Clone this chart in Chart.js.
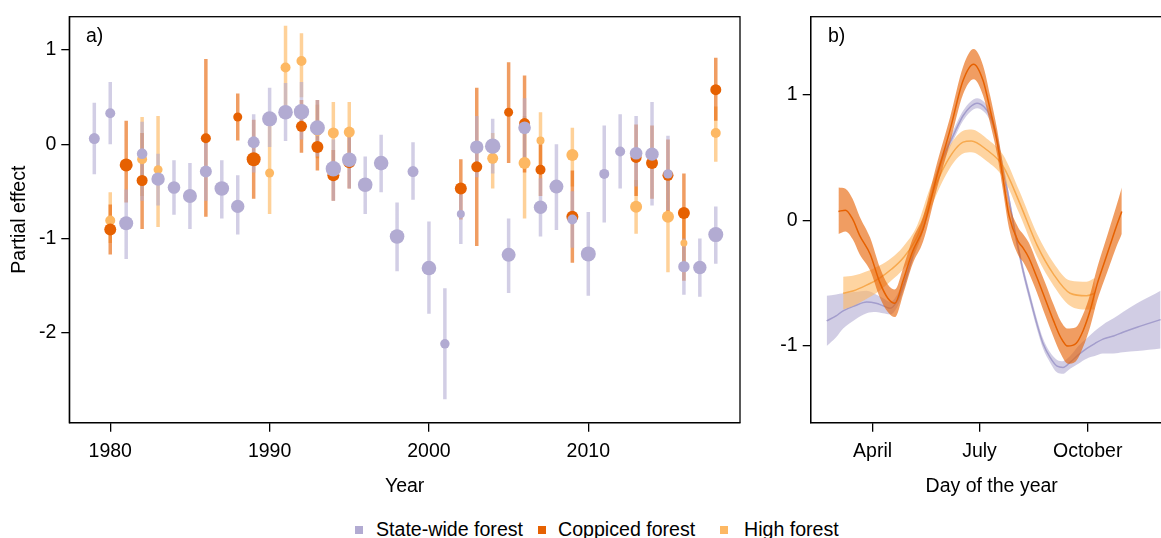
<!DOCTYPE html>
<html>
<head>
<meta charset="utf-8">
<script src="https://cdn.jsdelivr.net/npm/chart.js@4.4.1/dist/chart.umd.min.js"></script>
<style>
  html, body { margin: 0; padding: 0; background: #fff; overflow: hidden; width: 1161px; height: 538px; }
  body { position: relative; font-family: 'Liberation Sans', Arial, sans-serif; color: #000; }
  #wrapA { position: absolute; left: 0; top: 0; width: 770px; height: 505px; }
  #wrapB { position: absolute; left: 770px; top: 0; width: 430px; height: 505px; }
  .tag { position: absolute; font-size: 19.5px; line-height: 19.5px; white-space: nowrap; }
  .key { position: absolute; width: 8px; height: 8px; top: 526px; }
</style>
</head>
<body>
<div id="wrapA"><canvas id="chartA" width="770" height="505"></canvas></div>
<div id="wrapB"><canvas id="chartB" width="430" height="505"></canvas></div>
<div class="tag" style="left:86px; top:26px;">a)</div>
<div class="tag" style="left:828px; top:26px;">b)</div>
<div class="key" style="left:355px; background:#b2abd2;"></div>
<div class="tag" style="left:376px; top:519.5px; font-size:19.6px;">State-wide forest</div>
<div class="key" style="left:538px; background:#e66101;"></div>
<div class="tag" style="left:558px; top:519.5px; font-size:19.6px;">Coppiced forest</div>
<div class="key" style="left:720px; background:#fdb863;"></div>
<div class="tag" style="left:744px; top:519.5px; font-size:19.6px;">High forest</div>
<script>
// panel a: yearly partial effects with intervals
var stateYears = [1979, 1980, 1981, 1982, 1983, 1984, 1985, 1986, 1987, 1988, 1989, 1990, 1991, 1992, 1993, 1994, 1995, 1996, 1997, 1998,
  1999, 2000, 2001, 2002, 2003, 2004, 2005, 2006, 2007, 2008, 2009, 2010, 2011, 2012, 2013, 2014, 2015, 2016, 2017, 2018];
var stateVal = [0.06, 0.33, -0.84, -0.10, -0.37, -0.46, -0.55, -0.29, -0.47, -0.66, 0.02, 0.27, 0.34, 0.345, 0.175, -0.26, -0.165, -0.43, -0.20, -0.98,
  -0.29, -1.315, -2.12, -0.74, -0.03, -0.02, -1.175, 0.175, -0.67, -0.45, -0.80, -1.165, -0.315, -0.077, -0.095, -0.105, -0.315, -1.30, -1.31, -0.96];
var stateLow = [-0.32, 0.00, -1.22, -0.60, -0.65, -0.75, -0.90, -0.60, -0.79, -0.96, -0.30, -0.03, 0.035, 0.05, -0.13, -0.60, -0.47, -0.74, -0.51, -1.35,
  -0.59, -1.80, -2.71, -1.06, -0.35, -0.31, -1.58, -0.15, -0.98, -0.91, -1.10, -1.61, -0.83, -0.47, -0.45, -0.65, -0.70, -1.60, -1.62, -1.27];
var stateHigh = [0.44, 0.66, -0.48, 0.24, -0.10, -0.17, -0.20, 0.03, -0.17, -0.33, 0.32, 0.60, 0.65, 0.66, 0.47, 0.05, 0.13, -0.13, 0.10, -0.62,
  0.02, -0.82, -1.53, -0.42, 0.30, 0.27, -0.79, 0.49, -0.36, 0.00, -0.50, -0.72, 0.20, 0.32, 0.30, 0.45, 0.09, -1.00, -1.00, -0.66];
var stateSize = [5.5, 5, 7, 5.3, 6.7, 6.3, 7, 6, 7.3, 6.7, 6, 7.5, 7.3, 7.7, 7.5, 7.7, 7.3, 7.3, 7.3, 7.3,
  5.5, 7.3, 4.7, 4, 6.7, 7.7, 7, 6.3, 6.7, 7, 5, 7.5, 5, 5, 6.3, 6.7, 4.7, 5.7, 6.7, 7.5];

var coppYears = [1980, 1981, 1982, 1986, 1988, 1989, 1992, 1993, 1994, 1995, 2002, 2003, 2005, 2006, 2007, 2009, 2013, 2014, 2015, 2016, 2018];
var coppVal = [-0.905, -0.22, -0.385, 0.063, 0.29, -0.16, 0.19, -0.03, -0.33, -0.19, -0.47, -0.24, 0.34, 0.22, -0.27, -0.77, -0.14, -0.20, -0.33, -0.73, 0.58];
var coppLow = [-1.17, -0.62, -0.90, -0.77, 0.04, -0.58, -0.09, -0.28, -0.60, -0.47, -0.80, -1.08, -0.20, -0.30, -0.55, -1.26, -0.55, -0.58, -0.75, -1.45, 0.25];
var coppHigh = [-0.64, 0.25, 0.12, 0.905, 0.54, 0.26, 0.47, 0.47, -0.06, 0.09, -0.16, 0.60, 0.87, 0.73, 0.00, -0.28, 0.21, 0.20, 0.05, -0.31, 0.92];
var coppSize = [6, 6.5, 5.5, 5, 4.5, 7, 5.5, 6, 6, 6, 6, 5.5, 4.5, 5.5, 5, 6, 5.5, 6, 5.5, 6, 5.5];

var highYears = [1980, 1982, 1983, 1990, 1991, 1992, 1993, 1994, 1995, 2004, 2006, 2007, 2009, 2013, 2015, 2016, 2018];
var highVal = [-0.81, -0.16, -0.27, -0.305, 0.815, 0.885, 0.14, 0.12, 0.13, -0.15, -0.20, 0.04, -0.115, -0.665, -0.77, -1.05, 0.12];
var highLow = [-1.05, -0.55, -0.88, -0.74, 0.38, 0.50, -0.15, -0.25, -0.20, -0.47, -0.79, -0.30, -0.45, -0.95, -1.36, -1.35, -0.185];
var highHigh = [-0.51, 0.29, 0.30, 0.23, 1.26, 1.18, 0.42, 0.45, 0.45, 0.12, 0.30, 0.34, 0.175, -0.38, -0.30, -0.75, 0.40];
var highSize = [5, 5, 4.5, 4.5, 5, 5, 5, 5.5, 5.5, 5.5, 6, 4, 6, 6, 6, 3.5, 5];

var yearTicks = [1980, 1990, 2000, 2010];
var effectTicksA = [-2, -1, 0, 1];

// panel b: seasonal smooths with confidence bands
var stateDays = [52, 60, 66, 76, 86, 94, 100, 106, 112, 118, 123, 128, 134, 140, 146, 151, 157, 163, 168, 174, 180, 186, 191, 195, 199, 204, 208, 212,
  216, 219, 225, 231, 236, 242, 248, 253, 259, 266, 273, 280, 287, 296, 304, 316, 326, 336];
var stateMid = [-0.80, -0.76, -0.72, -0.68, -0.65, -0.66, -0.68, -0.70, -0.64, -0.50, -0.35, -0.20, -0.05, 0.16, 0.37, 0.50, 0.62, 0.74, 0.83, 0.90, 0.93, 0.90, 0.83, 0.72, 0.55, 0.32, 0.12, -0.09,
  -0.27, -0.40, -0.62, -0.83, -0.98, -1.09, -1.16, -1.17, -1.13, -1.07, -1.02, -0.98, -0.945, -0.92, -0.89, -0.85, -0.82, -0.79];
var stateHi = [-0.60, -0.59, -0.58, -0.57, -0.56, -0.59, -0.62, -0.65, -0.59, -0.46, -0.31, -0.16, -0.01, 0.20, 0.41, 0.54, 0.66, 0.78, 0.87, 0.94, 0.97, 0.94, 0.87, 0.76, 0.59, 0.36, 0.16, -0.05,
  -0.23, -0.36, -0.58, -0.79, -0.94, -1.05, -1.11, -1.12, -1.08, -1.00, -0.94, -0.88, -0.83, -0.78, -0.73, -0.66, -0.61, -0.56];
var stateLo = [-1.00, -0.93, -0.86, -0.79, -0.74, -0.73, -0.74, -0.75, -0.69, -0.54, -0.39, -0.24, -0.09, 0.12, 0.33, 0.46, 0.58, 0.70, 0.79, 0.86, 0.89, 0.86, 0.79, 0.68, 0.51, 0.28, 0.08, -0.13,
  -0.31, -0.44, -0.66, -0.87, -1.02, -1.13, -1.21, -1.22, -1.18, -1.14, -1.10, -1.08, -1.06, -1.06, -1.05, -1.04, -1.03, -1.02];

var coppDays = [62, 68, 74, 80, 89, 97, 104, 110, 117, 125, 134, 146, 157, 168, 177, 185, 191, 197, 202, 207, 215, 219, 224, 231, 238, 245, 251, 257, 264, 270, 276, 282, 288, 293, 298, 303];
var coppMid = [0.07, 0.08, 0.01, -0.12, -0.27, -0.49, -0.62, -0.66, -0.48, -0.25, -0.07, 0.36, 0.72, 1.11, 1.24, 1.11, 0.88, 0.62, 0.33, 0.04, -0.17, -0.22,
  -0.30, -0.46, -0.63, -0.80, -0.93, -1.00, -0.98, -0.88, -0.72, -0.51, -0.34, -0.20, -0.06, 0.07];
var coppHi = [0.26, 0.25, 0.17, 0.03, -0.14, -0.37, -0.51, -0.55, -0.38, -0.15, 0.03, 0.46, 0.82, 1.22, 1.36, 1.23, 0.99, 0.72, 0.43, 0.14, -0.06, -0.11,
  -0.18, -0.34, -0.50, -0.67, -0.80, -0.86, -0.85, -0.75, -0.59, -0.38, -0.20, -0.05, 0.10, 0.26];
var coppLo = [-0.11, -0.09, -0.15, -0.27, -0.40, -0.61, -0.73, -0.77, -0.59, -0.35, -0.17, 0.26, 0.62, 1.00, 1.12, 0.99, 0.77, 0.52, 0.23, -0.06, -0.28, -0.33,
  -0.42, -0.58, -0.76, -0.93, -1.06, -1.14, -1.12, -1.01, -0.85, -0.64, -0.48, -0.35, -0.22, -0.11];

var highDays = [66, 75, 85, 97, 107, 117, 129, 140, 154, 168, 175, 188, 202, 216, 231, 245, 259, 273, 280];
var highMid = [-0.58, -0.56, -0.52, -0.46, -0.39, -0.30, -0.13, 0.17, 0.46, 0.62, 0.63, 0.56, 0.43, 0.14, -0.20, -0.43, -0.58, -0.60, -0.58];
var highHi = [-0.45, -0.44, -0.41, -0.36, -0.30, -0.21, -0.04, 0.26, 0.55, 0.71, 0.72, 0.65, 0.52, 0.23, -0.11, -0.34, -0.48, -0.49, -0.46];
var highLo = [-0.71, -0.68, -0.63, -0.56, -0.48, -0.39, -0.22, 0.08, 0.37, 0.53, 0.54, 0.47, 0.34, 0.05, -0.29, -0.52, -0.68, -0.71, -0.71];

var monthDays = [91, 182, 274];
var monthNames = ['April', 'July', 'October'];
var effectTicksB = [-1, 0, 1];

Chart.defaults.font.family = "'Liberation Sans', Arial, sans-serif";
Chart.defaults.font.size = 19.5;
Chart.defaults.color = '#000';

function pairs (xs, ys) {
  return xs.map(function (x, i) { return { x: x, y: ys[i] }; });
}

function whiskers (xs, lo, hi) {
  var out = [];
  xs.forEach(function (x, i) {
    out.push({ x: x, y: lo[i] }, { x: x, y: hi[i] }, { x: x, y: null });
  });
  return out;
}

function fixedTicks (values) {
  return function (scale) {
    scale.ticks = values.map(function (v) { return { value: v }; });
  };
}

var frame = {
  id: 'frame',
  afterDraw: function (chart) {
    var a = chart.chartArea, c = chart.ctx;
    c.save();
    c.strokeStyle = '#000';
    c.lineWidth = 1.3;
    c.strokeRect(a.left, a.top, a.right - a.left, a.bottom - a.top);
    c.restore();
  }
};

function pointSet (xs, ys, sizes, color) {
  return { data: pairs(xs, ys), showLine: false, pointRadius: sizes, pointBackgroundColor: color,
    pointBorderWidth: 0, pointHoverRadius: sizes };
}

function barSet (xs, lo, hi, color) {
  return { data: whiskers(xs, lo, hi), borderColor: color, borderWidth: 3.5, pointRadius: 0,
    spanGaps: false, borderCapStyle: 'butt', fill: false };
}

function axisStyle () {
  return {
    grid: { drawOnChartArea: false, drawTicks: true, tickLength: 9, color: '#000', tickColor: '#000', lineWidth: 1.3, tickWidth: 1.3 },
    border: { display: true, color: '#000', width: 1.3 }
  };
}

function draw () {
  var xa = axisStyle(), ya = axisStyle();
  new Chart(document.getElementById('chartA'), {
    type: 'line',
    data: {
      datasets: [
        pointSet(stateYears, stateVal, stateSize, '#b2abd2'),
        pointSet(coppYears, coppVal, coppSize, '#e66101'),
        pointSet(highYears, highVal, highSize, '#fdb863'),
        barSet(stateYears, stateLow, stateHigh, 'rgba(178,171,210,0.58)'),
        barSet(coppYears, coppLow, coppHigh, 'rgba(230,97,1,0.62)'),
        barSet(highYears, highLow, highHigh, 'rgba(253,184,99,0.65)')
      ]
    },
    options: {
      responsive: false,
      animation: false,
      layout: { padding: { left: 0, top: 13.3, right: 30, bottom: 0 } },
      plugins: { legend: { display: false }, tooltip: { enabled: false } },
      scales: {
        x: {
          type: 'linear', min: 1977.43, max: 2019.52,
          afterBuildTicks: fixedTicks(yearTicks),
          afterFit: function (s) { s.height = 82.3; },
          grid: xa.grid, border: xa.border,
          ticks: { padding: 7.8, maxRotation: 0, callback: function (v) { return String(v); } },
          title: { display: true, text: 'Year', padding: { top: 0, bottom: 6.9 } }
        },
        y: {
          min: -2.958, max: 1.355,
          afterBuildTicks: fixedTicks(effectTicksA),
          afterFit: function (s) { s.width = 69.3; },
          grid: Object.assign({}, ya.grid, { tickLength: 8 }), border: ya.border,
          ticks: { padding: 5, callback: function (v) { return String(v); } },
          title: { display: true, text: 'Partial effect', padding: { top: 8.3, bottom: 0 } }
        }
      }
    },
    plugins: [frame]
  });

  var xb = axisStyle(), yb = axisStyle();
  var band = function (xs, ys, color, fill) {
    return { data: pairs(xs, ys), borderWidth: 0, pointRadius: 0, backgroundColor: color,
      fill: fill, cubicInterpolationMode: 'monotone' };
  };
  var mid = function (xs, ys, color) {
    return { data: pairs(xs, ys), borderColor: color, borderWidth: 1.5, pointRadius: 0,
      fill: false, cubicInterpolationMode: 'monotone' };
  };
  new Chart(document.getElementById('chartB'), {
    type: 'line',
    data: {
      datasets: [
        mid(coppDays, coppMid, '#e66101'),
        band(coppDays, coppHi, 'rgba(230,97,1,0.62)', '+1'),
        band(coppDays, coppLo, 'rgba(230,97,1,0.62)', false),
        mid(highDays, highMid, '#f7a94e'),
        band(highDays, highHi, 'rgba(253,184,99,0.6)', '+1'),
        band(highDays, highLo, 'rgba(253,184,99,0.6)', false),
        mid(stateDays, stateMid, '#a39dcc'),
        band(stateDays, stateHi, 'rgba(178,171,210,0.6)', '+1'),
        band(stateDays, stateLo, 'rgba(178,171,210,0.6)', false)
      ]
    },
    options: {
      responsive: false,
      animation: false,
      layout: { padding: { left: 0, top: 13.3, right: 27.3, bottom: 0 } },
      plugins: { legend: { display: false }, tooltip: { enabled: false } },
      scales: {
        x: {
          type: 'linear', min: 38.4, max: 346.3,
          afterBuildTicks: fixedTicks(monthDays),
          afterFit: function (s) { s.height = 82.3; },
          grid: xb.grid, border: xb.border,
          ticks: { padding: 7.8, maxRotation: 0, callback: function (v) { return monthNames[monthDays.indexOf(v)]; } },
          title: { display: true, text: 'Day of the year', padding: { top: 0, bottom: 6.9 } }
        },
        y: {
          min: -1.609, max: 1.617,
          afterBuildTicks: fixedTicks(effectTicksB),
          afterFit: function (s) { s.width = 40.7; },
          grid: Object.assign({}, yb.grid, { tickLength: 8 }), border: yb.border,
          ticks: { padding: 5, callback: function (v) { return String(v); } }
        }
      }
    },
    plugins: [frame]
  });
}

draw();
</script>
</body>
</html>
